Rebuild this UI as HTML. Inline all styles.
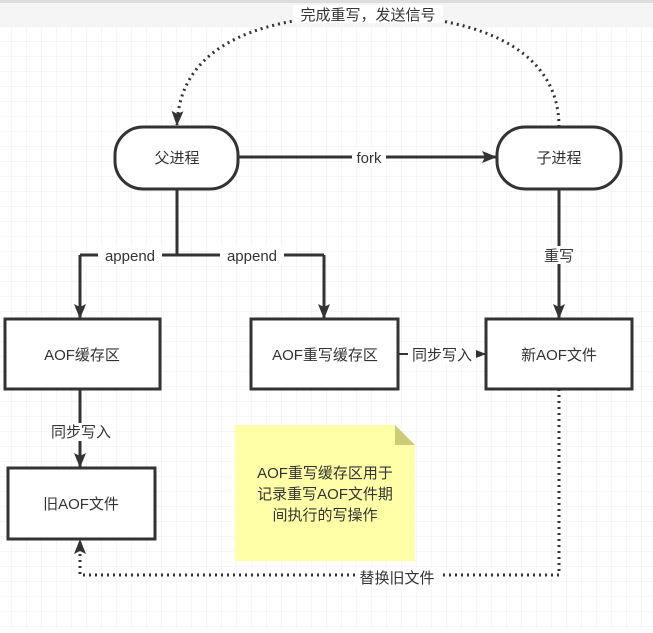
<!DOCTYPE html>
<html><head><meta charset="utf-8"><style>
body{margin:0;width:653px;height:628px;overflow:hidden;font-family:"Liberation Sans","Noto Sans CJK SC",sans-serif;}
</style></head><body>
<svg width="653" height="628" xmlns="http://www.w3.org/2000/svg" font-family="Liberation Sans, Noto Sans CJK SC, sans-serif">
<defs>
<pattern id="g" width="15" height="15" patternUnits="userSpaceOnUse" x="12" y="27">
<path d="M15 0V15M0 15H15" stroke="#ececec" stroke-width="1" fill="none"/>
</pattern>
<marker id="a" markerWidth="16" markerHeight="14" refX="14" refY="7" orient="auto" markerUnits="userSpaceOnUse"><path d="M0 1L15 7L0 13L3 7Z" fill="#333"/></marker>
</defs>
<rect width="653" height="628" fill="#fff"/>
<rect y="27" width="653" height="601" fill="url(#g)"/>
<rect width="653" height="27" fill="#f5f5f5"/>
<rect width="653" height="3" fill="#ddd"/>
<g stroke="#333" stroke-width="3" fill="none">
<path d="M559 127C559 40 460 15 370 15C270 15 180 40 177 125" stroke-dasharray="2 4" marker-end="url(#a)"/>
<path d="M238 157H496" marker-end="url(#a)"/>
<path d="M177 189V255M80 255H324" />
<path d="M80 255V318" marker-end="url(#a)"/>
<path d="M324 255V318" marker-end="url(#a)"/>
<path d="M559 189V318" marker-end="url(#a)"/>
<path d="M80 389V467" marker-end="url(#a)"/>
<path d="M398 354H485" stroke-width="2" marker-end="url(#a)"/>
<path d="M559 389V575H80V540" stroke-dasharray="2 4" marker-end="url(#a)"/>
<rect x="115" y="127" width="123" height="62" rx="28" fill="#fff"/>
<rect x="497" y="127" width="124" height="62" rx="28" fill="#fff"/>
<rect x="5" y="319" width="155" height="70" fill="#fff"/>
<rect x="251" y="319" width="147" height="70" fill="#fff"/>
<rect x="486" y="319" width="146" height="70" fill="#fff"/>
<rect x="8" y="468" width="147" height="71" fill="#fff"/>
</g>
<path d="M235 425H395L415 445V561H235Z" fill="#ffffa8"/>
<path d="M395 425L415 445H395Z" fill="#cccc77"/>
<g fill="#fff">
<rect x="293" y="5" width="150" height="18"/>
<rect x="352" y="148" width="34" height="18"/>
<rect x="98" y="246" width="64" height="18"/>
<rect x="220" y="246" width="64" height="18"/>
<rect x="541" y="246" width="36" height="18"/>
<rect x="48" y="423" width="66" height="18"/>
<rect x="408" y="345" width="68" height="18"/>
<rect x="355" y="568" width="84" height="18"/>
</g>
<g font-size="15" fill="#333" text-anchor="middle">
<text x="368" y="20">完成重写，发送信号</text>
<text x="369" y="163">fork</text>
<text x="177" y="163">父进程</text>
<text x="559" y="163">子进程</text>
<text x="130" y="261">append</text>
<text x="252" y="261">append</text>
<text x="559" y="261">重写</text>
<text x="82" y="360">AOF缓存区</text>
<text x="325" y="360">AOF重写缓存区</text>
<text x="559" y="360">新AOF文件</text>
<text x="442" y="360">同步写入</text>
<text x="81" y="437">同步写入</text>
<text x="81" y="509">旧AOF文件</text>
<text x="325" y="478">AOF重写缓存区用于</text>
<text x="325" y="499">记录重写AOF文件期</text>
<text x="325" y="520">间执行的写操作</text>
<text x="397" y="583">替换旧文件</text>
</g>
</svg>
</body></html>
